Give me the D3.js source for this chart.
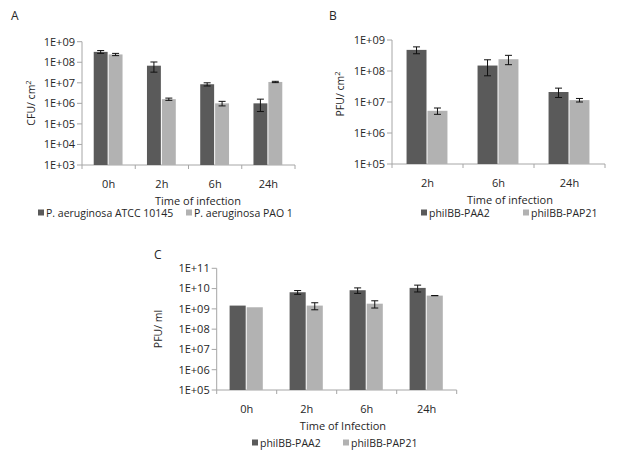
<!DOCTYPE html>
<html>
<head>
<meta charset="utf-8">
<script src="https://cdn.jsdelivr.net/npm/d3@7"></script>
<style>
  html, body { margin: 0; padding: 0; background: #fff; }
  svg text { font-family: 'Open Sans', 'DejaVu Sans', sans-serif; fill: #262626; }
</style>
</head>
<body>
<svg id="chart" width="620" height="454"></svg>
<script>
// Panel A: CFU per cm2, two strains
const A_CATS = ['0h', '2h', '6h', '24h'];
const A_ATCC = [3.2e8, 6.8e7, 8.5e6, 1.0e6];
const A_ATCC_ERR = [5e7, 3.5e7, 1.5e6, 6e5];
const A_PAO = [2.4e8, 1.6e6, 1.0e6, 1.1e7];
const A_PAO_ERR = [3e7, 2e5, 2.5e5, 8e5];
const A_TICKS = [1e3, 1e4, 1e5, 1e6, 1e7, 1e8, 1e9];
const A_SERIES = ['P. aeruginosa ATCC 10145', 'P. aeruginosa PAO 1'];

// Panel B: PFU per cm2, two phages
const B_CATS = ['2h', '6h', '24h'];
const B_PAA2 = [4.8e8, 1.5e8, 2.1e7];
const B_PAA2_ERR = [1.2e8, 8e7, 7e6];
const B_PAP21 = [5.2e6, 2.4e8, 1.15e7];
const B_PAP21_ERR = [1.2e6, 8e7, 1.5e6];
const B_TICKS = [1e5, 1e6, 1e7, 1e8, 1e9];

// Panel C: PFU per ml
const C_CATS = ['0h', '2h', '6h', '24h'];
const C_PAA2 = [1.45e9, 6.6e9, 8.3e9, 1.08e10];
const C_PAA2_ERR = [0, 1.4e9, 2.5e9, 4e9];
const C_PAP21 = [1.2e9, 1.45e9, 1.8e9, 4.5e9];
const C_PAP21_ERR = [0, 5.5e8, 7e8, 5e7];
const C_TICKS = [1e5, 1e6, 1e7, 1e8, 1e9, 1e10, 1e11];
const PHAGES = ['philBB-PAA2', 'philBB-PAP21'];

const COLORS = ['#5a5a5a', '#b2b2b2'];
const AXIS = '#a6a6a6';

const svg = d3.select('#chart');
const fmt = v => '1E+' + String(Math.round(Math.log10(v))).padStart(2, '0');

function panel(o) {
  const g = svg.append('g');
  const y = d3.scaleLog().domain([o.ticks[0], o.ticks[o.ticks.length - 1]]).range([o.y1, o.y0]);
  const x = d3.scaleBand().domain(o.cats).range([o.x0, o.x1]);
  const inner = d3.scaleBand().domain([0, 1])
    .range([x.bandwidth() * (1 - o.frac) / 2, x.bandwidth() * (1 + o.frac) / 2]);

  // y axis
  g.append('line').attr('x1', o.x0).attr('x2', o.x0).attr('y1', o.y0).attr('y2', o.y1)
    .attr('stroke', AXIS);
  o.ticks.forEach(t => {
    g.append('line').attr('x1', o.x0 - 5).attr('x2', o.x0).attr('y1', y(t)).attr('y2', y(t))
      .attr('stroke', AXIS);
    g.append('text').attr('x', o.x0 - 7).attr('y', y(t)).attr('dy', '0.35em')
      .attr('text-anchor', 'end').style('font-size', '11px').text(fmt(t));
  });
  // x axis
  g.append('line').attr('x1', o.x0).attr('x2', o.x1).attr('y1', o.y1).attr('y2', o.y1)
    .attr('stroke', AXIS);
  d3.range(o.cats.length + 1).forEach(i => {
    const xx = o.x0 + i * x.step();
    g.append('line').attr('x1', xx).attr('x2', xx).attr('y1', o.y1).attr('y2', o.y1 + 4)
      .attr('stroke', AXIS);
  });
  o.cats.forEach(c => {
    g.append('text').attr('x', x(c) + x.bandwidth() / 2).attr('y', o.y1 + 23)
      .attr('text-anchor', 'middle').style('font-size', '11px').text(c);
  });

  // bars + error bars
  o.series.forEach((s, si) => {
    s.vals.forEach((v, i) => {
      const bx = x(o.cats[i]) + inner(si);
      const bw = inner.bandwidth();
      g.append('rect').attr('x', bx).attr('y', y(v)).attr('width', bw - 1)
        .attr('height', o.y1 - y(v)).attr('fill', COLORS[si]);
      const e = s.err[i];
      if (e > 0) {
        const cx = bx + bw / 2 - 0.5;
        const hi = y(v + e), lo = y(Math.max(v - e, o.ticks[0]));
        g.append('line').attr('x1', cx).attr('x2', cx).attr('y1', hi).attr('y2', lo)
          .attr('stroke', '#111').attr('stroke-width', 1);
        [hi, lo].forEach(yy => g.append('line').attr('x1', cx - 3.5).attr('x2', cx + 3.5)
          .attr('y1', yy).attr('y2', yy).attr('stroke', '#111').attr('stroke-width', 1));
      }
    });
  });

  // titles
  g.append('text').attr('x', o.titleX).attr('y', o.y1 + 40).attr('text-anchor', 'middle')
    .style('font-size', '11px').text(o.xTitle);
  const yl = g.append('text').attr('transform', `translate(${o.yLabX},${o.yLabY}) rotate(-90)`)
    .attr('text-anchor', 'middle').style('font-size', '10.5px').text(o.yTitle);
  if (o.sup) yl.append('tspan').attr('dy', '-4').style('font-size', '7.5px').text(o.sup);
  g.append('text').attr('x', o.letter[0]).attr('y', o.letter[1]).style('font-size', '12px')
    .text(o.letterText);

  // legend
  o.series.forEach((s, si) => {
    const lx = o.legend[si];
    g.append('rect').attr('x', lx).attr('y', o.legendY - 3.5).attr('width', 6).attr('height', 6)
      .attr('fill', COLORS[si]);
    g.append('text').attr('x', lx + 8).attr('y', o.legendY).attr('dy', '0.35em')
      .style('font-size', '10.5px').text(s.name);
  });
}

panel({
  letterText: 'A', letter: [11, 20],
  cats: A_CATS, ticks: A_TICKS, x0: 82, x1: 295, y0: 41.7, y1: 165, frac: 0.56,
  series: [
    { name: A_SERIES[0], vals: A_ATCC, err: A_ATCC_ERR },
    { name: A_SERIES[1], vals: A_PAO, err: A_PAO_ERR }
  ],
  xTitle: 'Time of infection', titleX: 198,
  yTitle: 'CFU/ cm', sup: '2', yLabX: 35, yLabY: 103,
  legend: [38, 186], legendY: 213
});

panel({
  letterText: 'B', letter: [329, 20],
  cats: B_CATS, ticks: B_TICKS, x0: 392, x1: 605, y0: 40, y1: 164, frac: 0.59,
  series: [
    { name: PHAGES[0], vals: B_PAA2, err: B_PAA2_ERR },
    { name: PHAGES[1], vals: B_PAP21, err: B_PAP21_ERR }
  ],
  xTitle: 'Time of infection', titleX: 510,
  yTitle: 'PFU/ cm', sup: '2', yLabX: 344, yLabY: 94,
  legend: [421, 523], legendY: 213
});

panel({
  letterText: 'C', letter: [154, 259],
  cats: C_CATS, ticks: C_TICKS, x0: 216.7, x1: 456.7, y0: 268.3, y1: 390, frac: 0.57,
  series: [
    { name: PHAGES[0], vals: C_PAA2, err: C_PAA2_ERR },
    { name: PHAGES[1], vals: C_PAP21, err: C_PAP21_ERR }
  ],
  xTitle: 'Time of Infection', titleX: 343,
  yTitle: 'PFU/ ml', yLabX: 162, yLabY: 329,
  legend: [252, 343], legendY: 443
});
</script>
</body>
</html>
